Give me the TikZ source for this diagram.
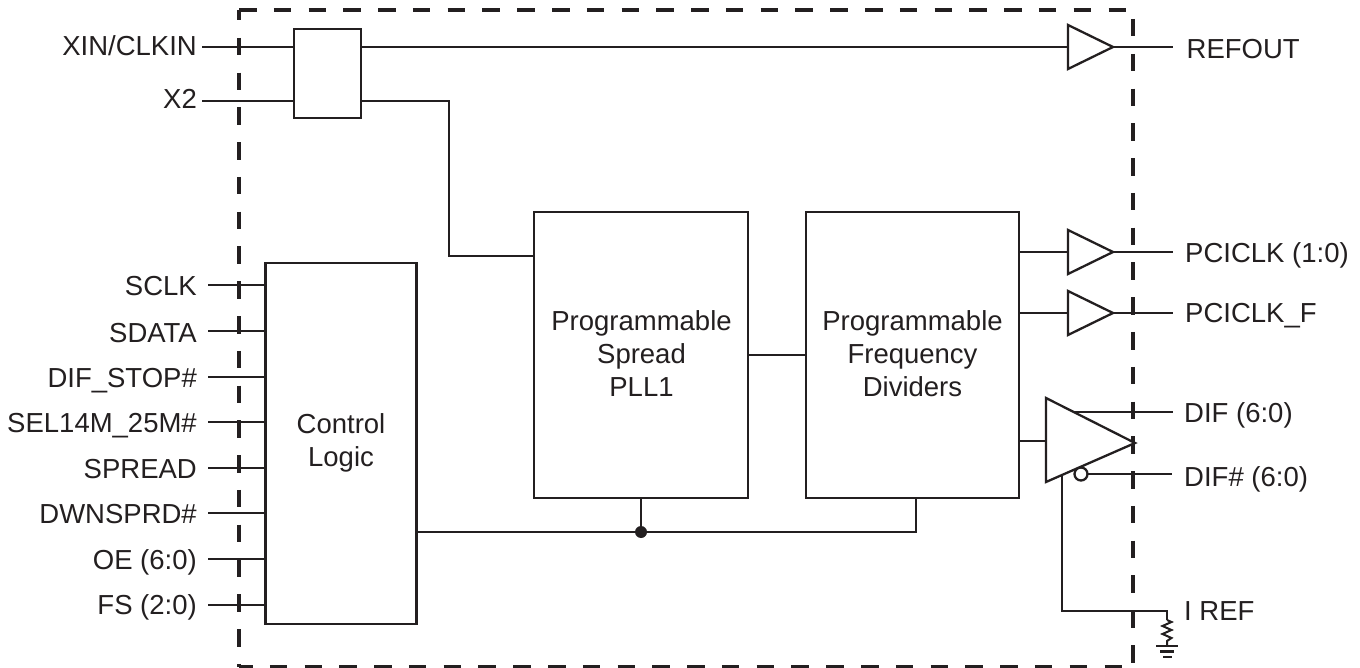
\documentclass[tikz,border=0pt]{standalone}
\usepackage{fontspec}
\setmainfont{Liberation Sans}
\definecolor{ink}{HTML}{231F20}
\tikzset{
 wire/.style={draw=ink,line width=2.5pt},
 boxn/.style={draw=ink,line width=2.5pt,fill=white,anchor=north west,inner sep=0pt,outer sep=0pt},
 bound/.style={draw=ink,line width=3.4pt,dash pattern=on 17.5pt off 17.28pt},
 amp/.style={draw=ink,line width=2.3pt,fill=white,miter limit=4},
 txt/.style={font=\fontsize{27.5pt}{33pt}\selectfont,text=ink,inner sep=0pt,align=center},
 lab/.style={txt,anchor=base east},
 rlab/.style={txt,anchor=base west},
}
\newcommand{\boxat}[6]{\node[boxn,minimum width=#4pt,minimum height=#5pt] (#1) at (#2,#3) {};}
\begin{document}
\begin{tikzpicture}[x=1pt,y=-1pt]
\useasboundingbox (0,0) rectangle (1360,668);
\fill[white] (0,0) rectangle (1360,668);
% pin labels and free ends of the input wires
\foreach \n/\t/\y/\b in {xin/XIN\slash CLKIN/47/56,xtwo/X2/101/109,sclk/SCLK/285/296,sdata/SDATA/331/342,stop/DIF\_STOP\#/377/387,sel/SEL14M\_25M\#/422/432,spread/SPREAD/468/478,dwn/DWNSPRD\#/513/523,oe/OE (6:0)/559/569,fs/FS (2:0)/605/614}{
  \node[lab] (\n) at (197,\b) {\t};
  \coordinate (\n w) at (208,\y);
}
\coordinate (xinw) at (202,47);
\coordinate (xtwow) at (202,101);
\foreach \n/\t/\b/\x in {refout/REFOUT/59/1186.5,pci/PCICLK (1:0)/263/1185,pcif/PCICLK\_F/323/1185,dif/DIF (6:0)/422/1184,difn/DIF\# (6:0)/486/1184,iref/I REF/620/1184}{
  \node[rlab] (\n) at (\x,\b) {\t};
}
% boundary
\draw[bound,dash phase=0pt] (239,10) -- (1126,10);
\draw[bound,dash phase=7pt] (239,10) -- (239,667);
\draw[bound,dash phase=25.8pt] (1133,10) -- (1133,664);
\draw[bound,dash phase=4pt] (239,667) -- (1133,667);
% boxes
\boxat{mux}{294}{29}{67}{89}{}
\boxat{ctl}{265.5}{263}{151}{361}{}
\boxat{pll}{534}{212}{214}{286}{}
\boxat{div}{806}{212}{213}{286}{}
\node[txt] (ctlt) at (341,442.5) {Control\\Logic};
\node[txt] (pllt) at (641.5,354) {Programmable\\Spread\\PLL1};
\node[txt] (divt) at (912.5,354) {Programmable\\Frequency\\Dividers};
% input wires
\draw[wire] (xinw) -- (xinw -| mux.west);
\draw[wire] (xtwow) -- (xtwow -| mux.west);
\foreach \n in {sclk,sdata,stop,sel,spread,dwn,oe,fs}
  \draw[wire] (\n w) -- (\n w -| ctl.west);
% buffers
\foreach \n/\y in {brefo/47,bpci/252,bpcif/313}{
  \coordinate (\n i) at (1068,\y);
  \coordinate (\n o) at (1113,\y);
  \coordinate (\n e) at (1172.5,\y);
}
\draw[wire] (mux.east |- brefoi) -- (brefoi);
\draw[wire] (brefoo) -- (brefoe);
\draw[wire] (div.east |- bpcii) -- (bpcii);
\draw[wire] (bpcio) -- (bpcie);
\draw[wire] (div.east |- bpcifi) -- (bpcifi);
\draw[wire] (bpcifo) -- (bpcife);
\foreach \n/\y in {brefo/47,bpci/252,bpcif/313}
  \draw[amp] (1068,\y-22) -- (1113,\y) -- (1068,\y+22) -- cycle;
\coordinate (xtwor) at (mux.east |- xtwow);
\draw[wire] (xtwor) -| (449,256) -- (pll.west |- 0,256);
\draw[wire] (pll.east) -- (div.west);
% control bus
\coordinate (busj) at (pll.south |- 0,532);
\coordinate (divb) at (916,498);
\draw[wire] (ctl.east |- busj) -- (busj) -| (divb);
\draw[wire] (pll.south) -- (busj);
\fill[ink] (busj) circle (6pt);
% diff amp
\coordinate (ampa) at (1046,398);
\coordinate (ampb) at (1046,482);
\coordinate (ampc) at (1135,443);
\coordinate (difs) at (1072,412);
\coordinate (dife) at (1173,412);
\coordinate (dnc) at (1081,474);
\coordinate (dne) at (1172,474);
\coordinate (irs) at (1062,474);
\coordinate (rt) at (1167,620);
\draw[wire] (div.east |- 0,441) -- (ampa |- 0,441);
\draw[wire] (difs) -- (dife);
\draw[wire] (dnc) -- (dne);
\draw[wire] (irs) |- (rt |- 0,611) -- (rt);
\draw[amp] (ampa) -- (ampc) -- (ampb) -- cycle;
\draw[draw=ink,line width=2.3pt,fill=white] (dnc) circle (6.5pt);
% resistor and ground
\draw[draw=ink,line width=2pt] (rt) -- (1171.5,622) -- (1162.5,626) -- (1171.5,630) -- (1162.5,634) -- (1171.5,638) -- (1167,641) -- (1167,646);
\draw[draw=ink,line width=2.4pt] (1156,646) -- (1178,646);
\draw[draw=ink,line width=2.4pt] (1160,651.5) -- (1174,651.5);
\draw[draw=ink,line width=2.4pt] (1163,657) -- (1171.5,657);
\end{tikzpicture}
\end{document}
